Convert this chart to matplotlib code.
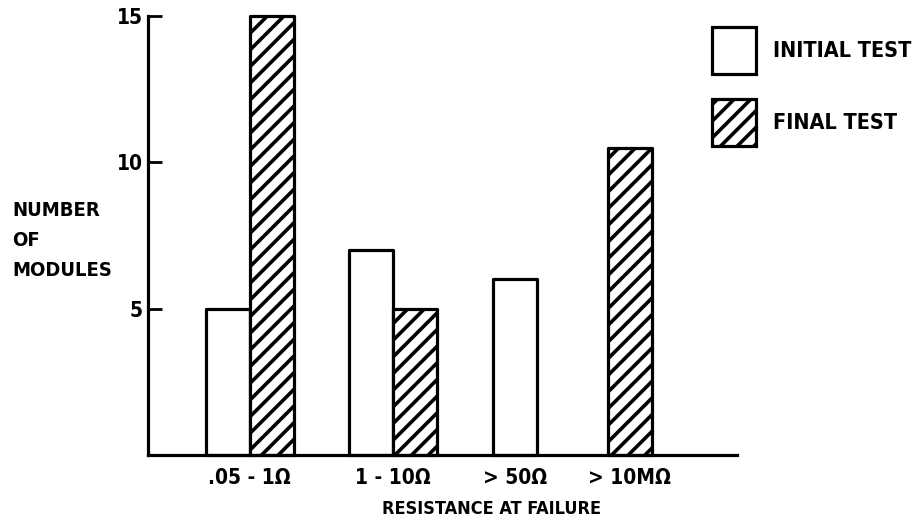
import numpy as np
import matplotlib
matplotlib.use("Agg")
import matplotlib.pyplot as plt

# data
categories = [".05 - 1\u03a9", "1 - 10\u03a9", "> 50\u03a9", "> 10M\u03a9"]
initial_test = [5, 7, 6, np.nan]
final_test = [15, 5, np.nan, 10.5]
series_names = ["INITIAL TEST", "FINAL TEST"]
yticks = [5, 10, 15]

# layout (pixel-like x units so the uneven spacing of the original is kept)
group_x = [249.5, 393, 515, 629.5]
bar_w = 44
x_range = (148, 737)

plt.rcParams['font.family'] = ['DejaVu Sans']
plt.rcParams['font.stretch'] = 'condensed'
plt.rcParams['font.weight'] = 'bold'
plt.rcParams['hatch.linewidth'] = 2.6
plt.rcParams['hatch.color'] = 'black'

fig = plt.figure(figsize=(9.18, 5.25), dpi=100)
W, H = 918, 525
ax = fig.add_axes([x_range[0] / W, (H - 455) / H, (x_range[1] - x_range[0]) / W, (455 - 16) / H])

# place bars: pair side by side, single bar centred on its group
x_init, x_final = [], []
for c, a, b in zip(group_x, initial_test, final_test):
    if np.isnan(a) or np.isnan(b):
        x_init.append(c)
        x_final.append(c)
    else:
        x_init.append(c - bar_w / 2)
        x_final.append(c + bar_w / 2)

lw = 2.3
b1 = ax.bar(x_init, initial_test, bar_w, color='white', edgecolor='black',
            linewidth=lw, label=series_names[0], zorder=3)
b2 = ax.bar(x_final, final_test, bar_w, color='white', edgecolor='black',
            linewidth=lw, hatch='//', label=series_names[1], zorder=3)
for r in list(b1) + list(b2):
    r.set_clip_on(False)
    r.set_joinstyle('round')

ax.set_xlim(*x_range)
ax.set_ylim(0, 15)
for s in ['top', 'right']:
    ax.spines[s].set_visible(False)
for s in ['left', 'bottom']:
    ax.spines[s].set_linewidth(lw)
    ax.spines[s].set_zorder(4)

ax.set_yticks(yticks)
ax.set_yticklabels([str(t) for t in yticks], fontsize=15, fontweight='bold')
ax.tick_params(axis='y', direction='in', length=10, width=2, pad=4)

ax.set_xticks(group_x)
ax.set_xticklabels(categories, fontsize=15, fontweight='bold')
ax.tick_params(axis='x', length=0, pad=9)

ax.set_xlabel("RESISTANCE AT FAILURE", fontsize=13, fontweight='bold', va='center')
ax.xaxis.set_label_coords((492 - x_range[0]) / (x_range[1] - x_range[0]), (455 - 509) / (455 - 16))

fig.text(12 / W, 1 - 201 / H, "NUMBER\nOF\nMODULES", fontsize=14.5, fontweight='bold',
         ha='left', va='top', linespacing=1.75)

leg = ax.legend(handles=[b1, b2], loc='upper left', bbox_to_anchor=(712 / W, 1 - 27 / H),
                bbox_transform=fig.transFigure, frameon=False, fontsize=15.5,
                handlelength=2.05, handleheight=3.0, handletextpad=0.8,
                labelspacing=1.15, borderpad=0, borderaxespad=0)
for p in leg.get_patches():
    p.set_linewidth(lw)

fig.savefig("out.png", dpi=100)
